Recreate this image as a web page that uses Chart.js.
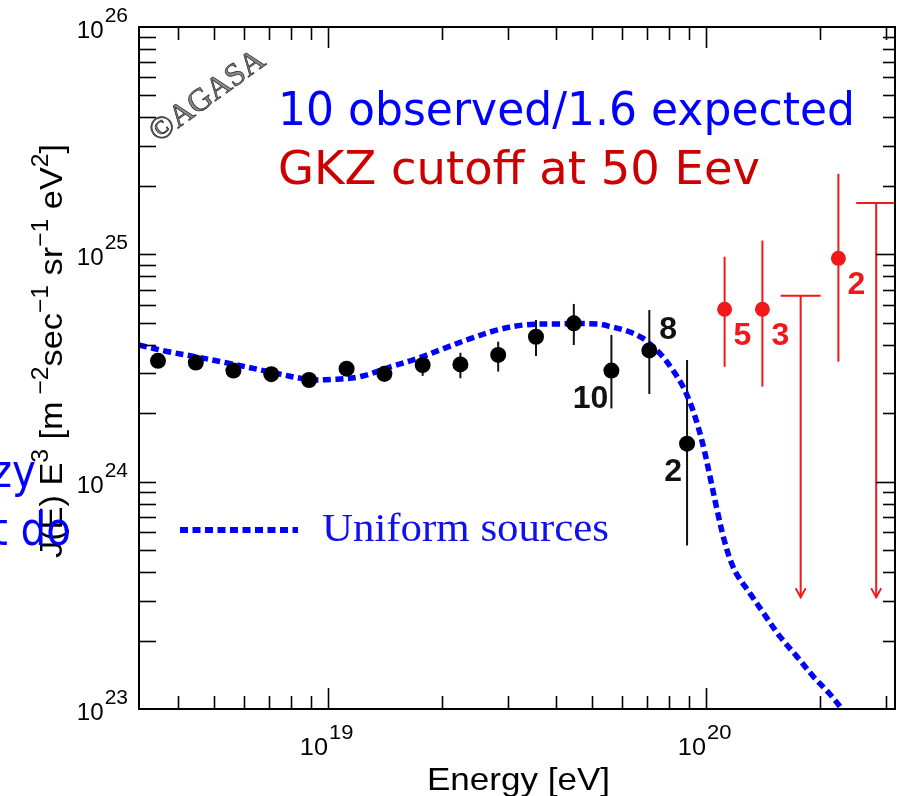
<!DOCTYPE html>
<html>
<head>
<meta charset="utf-8">
<script src="https://cdn.jsdelivr.net/npm/chart.js@4.4.0/dist/chart.umd.min.js"></script>
<style>
  html, body { margin: 0; padding: 0; background: #fff; }
  #wrap { position: relative; width: 903px; height: 796px; }
  canvas { display: block; }
</style>
</head>
<body>
<div id="wrap"><canvas id="chart"></canvas></div>
<script>
// AGASA energy spectrum, flux multiplied by E^3
const energy = [3.55e18, 4.47e18, 5.62e18, 7.08e18, 8.91e18, 1.12e19, 1.41e19, 1.78e19,
                2.24e19, 2.82e19, 3.55e19, 4.47e19, 5.62e19, 7.08e19, 8.91e19];
const flux   = [3.40e24, 3.34e24, 3.08e24, 2.97e24, 2.80e24, 3.14e24, 2.98e24, 3.26e24,
                3.28e24, 3.61e24, 4.34e24, 4.97e24, 3.08e24, 3.78e24, 1.47e24];
const fluxLo = [3.30e24, 3.24e24, 2.98e24, 2.87e24, 2.70e24, 3.02e24, 2.75e24, 2.92e24,
                2.85e24, 3.05e24, 3.57e24, 3.99e24, 2.10e24, 2.43e24, 5.24e23];
const fluxHi = [3.50e24, 3.44e24, 3.18e24, 3.07e24, 2.92e24, 3.27e24, 3.20e24, 3.61e24,
                3.69e24, 4.13e24, 5.14e24, 6.05e24, 4.42e24, 5.69e24, 3.43e24];
const eventCounts = [null, null, null, null, null, null, null, null,
                     null, null, null, null, '10', '8', '2'];

// events above the GZK energy
const gzkEnergy = [1.12e20, 1.41e20, 2.24e20];
const gzkFlux   = [5.73e24, 5.73e24, 9.60e24];
const gzkLo     = [3.20e24, 2.62e24, 3.37e24];
const gzkHi     = [9.76e24, 1.15e25, 2.26e25];
const gzkCounts = ['5', '3', '2'];

// upper limits (no events)
const limitEnergy = [1.78e20, 2.82e20];
const limitFlux   = [6.58e24, 1.68e25];
const limitFloor  = [3.10e23, 3.10e23];

// expected spectrum for uniformly distributed sources
const modelEnergy = [3.16e18, 3.78e18, 4.45e18, 5.45e18, 6.95e18, 8.85e18, 1.04e19, 1.22e19,
                     1.47e19, 1.73e19, 2.03e19, 2.39e19, 2.81e19, 3.30e19, 4.05e19, 5.15e19,
                     5.65e19, 6.19e19, 6.78e19, 7.21e19, 7.66e19, 8.13e19, 8.65e19, 9.08e19,
                     9.47e19, 9.89e19, 1.025e20, 1.07e20, 1.115e20, 1.16e20, 1.21e20, 1.31e20,
                     1.42e20, 1.57e20, 1.74e20, 1.93e20, 2.12e20, 2.29e20];
const modelFlux   = [3.99e24, 3.73e24, 3.55e24, 3.32e24, 3.05e24, 2.82e24, 2.82e24, 2.90e24,
                     3.21e24, 3.49e24, 3.86e24, 4.27e24, 4.65e24, 4.89e24, 4.94e24, 4.94e24,
                     4.79e24, 4.60e24, 4.29e24, 3.95e24, 3.57e24, 3.13e24, 2.66e24, 2.22e24,
                     1.81e24, 1.38e24, 1.05e24, 7.50e23, 5.60e23, 4.52e23, 3.88e23, 3.21e23,
                     2.64e23, 2.08e23, 1.70e23, 1.38e23, 1.17e23, 1.00e23];

const xDecades = [19, 20];
const yDecades = [23, 24, 25, 26];

const SANS = '"Liberation Sans", Arial, Helvetica, sans-serif';
const SERIF = '"Liberation Serif", "Times New Roman", serif';
const CASUAL = '"DejaVu Sans", sans-serif';

function toPoints(xs, ys) { return xs.map((v, i) => ({ x: v, y: ys[i] })); }

// text with superscripts: parts = [[text, isSuperscript], ...]
function richWidth(ctx, parts, size, supSize, family) {
  let w = 0;
  for (const [t, sup] of parts) {
    ctx.font = (sup ? supSize : size) + 'px ' + family;
    w += ctx.measureText(t).width;
  }
  return w;
}
function drawRich(ctx, parts, size, supSize, rise, family, startX) {
  let cx = startX;
  for (const [t, sup] of parts) {
    ctx.font = (sup ? supSize : size) + 'px ' + family;
    ctx.fillText(t, cx, sup ? -rise : 0);
    cx += ctx.measureText(t).width;
  }
}
// draw a string squeezed/stretched horizontally to a target width
function fitText(ctx, text, font, x, y, width, color) {
  ctx.save();
  ctx.font = font;
  const w = ctx.measureText(text).width;
  ctx.translate(x, y);
  ctx.scale(width / w, 1);
  ctx.fillStyle = color;
  ctx.textAlign = 'left';
  ctx.textBaseline = 'alphabetic';
  ctx.fillText(text, 0, 0);
  ctx.restore();
}

const errorBars = {
  id: 'errorBars',
  beforeDatasetsDraw(chart) {
    const { ctx, scales: { x, y } } = chart;
    ctx.save();
    ctx.lineWidth = 2;
    ctx.strokeStyle = '#111';
    energy.forEach((e, i) => {
      const px = x.getPixelForValue(e);
      ctx.beginPath();
      ctx.moveTo(px, y.getPixelForValue(fluxLo[i]));
      ctx.lineTo(px, y.getPixelForValue(fluxHi[i]));
      ctx.stroke();
    });
    ctx.strokeStyle = '#f01818';
    gzkEnergy.forEach((e, i) => {
      const px = x.getPixelForValue(e);
      ctx.beginPath();
      ctx.moveTo(px, y.getPixelForValue(gzkLo[i]));
      ctx.lineTo(px, y.getPixelForValue(gzkHi[i]));
      ctx.stroke();
    });
    // upper limits with downward arrows
    const a = chart.chartArea;
    ctx.save();
    ctx.beginPath();
    ctx.rect(a.left, a.top, a.right - a.left, a.bottom - a.top);
    ctx.clip();
    limitEnergy.forEach((e, i) => {
      const px = x.getPixelForValue(e);
      const top = y.getPixelForValue(limitFlux[i]);
      const tip = y.getPixelForValue(limitFloor[i]);
      ctx.lineWidth = 2;
      ctx.beginPath();
      ctx.moveTo(px - 20, top); ctx.lineTo(px + 20, top);
      ctx.moveTo(px, top); ctx.lineTo(px, tip);
      ctx.stroke();
      ctx.lineWidth = 1.8;
      ctx.beginPath();
      ctx.moveTo(px - 5, tip - 9); ctx.lineTo(px, tip); ctx.lineTo(px + 5, tip - 9);
      ctx.stroke();
    });
    ctx.restore();
    ctx.restore();
  }
};

const decorations = {
  id: 'decorations',
  afterDraw(chart) {
    const { ctx, chartArea: a, scales: { x, y } } = chart;
    ctx.save();

    // frame
    ctx.strokeStyle = '#000';
    ctx.lineWidth = 2;
    ctx.strokeRect(a.left, a.top, a.right - a.left, a.bottom - a.top);

    // inward tick marks on all four sides
    ctx.lineWidth = 1.6;
    const seg = (x1, y1, x2, y2) => { ctx.beginPath(); ctx.moveTo(x1, y1); ctx.lineTo(x2, y2); ctx.stroke(); };
    const lx0 = Math.floor(Math.log10(x.min)), lx1 = Math.ceil(Math.log10(x.max));
    for (let d = lx0; d <= lx1; d++) {
      for (let m = 1; m <= 9; m++) {
        const v = m * Math.pow(10, d);
        if (v <= x.min * 1.0001 || v >= x.max * 0.9999) continue;
        const px = Math.round(x.getPixelForValue(v)) + 0.5;
        const len = m === 1 ? 21 : 13;
        seg(px, a.bottom, px, a.bottom - len);
        seg(px, a.top, px, a.top + len);
      }
    }
    const ly0 = Math.floor(Math.log10(y.min)), ly1 = Math.ceil(Math.log10(y.max));
    for (let d = ly0; d <= ly1; d++) {
      for (let m = 1; m <= 9; m++) {
        const v = m * Math.pow(10, d);
        if (v <= y.min * 1.0001 || v >= y.max * 0.9999) continue;
        const py = Math.round(y.getPixelForValue(v)) + 0.5;
        seg(a.left, py, a.left + 17, py);
        seg(a.right, py, a.right - (m === 1 ? 19 : 12), py);
      }
    }

    // tick labels 10^n
    ctx.fillStyle = '#000';
    ctx.textBaseline = 'alphabetic';
    ctx.textAlign = 'left';
    xDecades.forEach(d => {
      const px = x.getPixelForValue(Math.pow(10, d));
      ctx.save();
      ctx.translate(px, a.bottom + 46);
      ctx.scale(1.1, 1);
      ctx.font = '23px ' + SANS;
      const w10 = ctx.measureText('10').width;
      ctx.fillText('10', -w10, 0);
      ctx.font = '20px ' + SANS;
      ctx.fillText(String(d), 1, -16);
      ctx.restore();
    });
    yDecades.forEach(d => {
      const py = y.getPixelForValue(Math.pow(10, d));
      ctx.save();
      ctx.translate(128, py + 11);
      ctx.scale(1.05, 1);
      ctx.font = '20px ' + SANS;
      const ws = ctx.measureText(String(d)).width;
      ctx.fillText(String(d), -ws, -16);
      ctx.font = '23px ' + SANS;
      const w10 = ctx.measureText('10').width;
      ctx.fillText('10', -ws - w10 - 1, 0);
      ctx.restore();
    });

    // axis titles
    fitText(ctx, 'Energy [eV]', '32px ' + SANS, 427, 790, 183, '#000');
    const yTitle = [['J(E) E', 0], ['3', 1], [' [m', 0], [' \u22122', 1], ['sec', 0], ['\u22121', 1],
                    [' sr', 0], ['\u22121', 1], [' eV', 0], ['2', 1], [']', 0]];
    ctx.save();
    ctx.translate(62, 351);
    ctx.rotate(-Math.PI / 2);
    const tw = richWidth(ctx, yTitle, 32, 23, SANS);
    ctx.scale(414 / tw, 1);
    ctx.fillStyle = '#000';
    drawRich(ctx, yTitle, 32, 23, 14, SANS, -tw / 2);
    ctx.restore();

    // event counts beside points
    ctx.font = 'bold 32px ' + SANS;
    const place = { 12: ['right', -3, 37], 13: ['left', 10, -11], 14: ['right', -5, 37] };
    eventCounts.forEach((c, i) => {
      if (!c) return;
      const [al, dx, dy] = place[i];
      ctx.fillStyle = '#111';
      ctx.textAlign = al;
      ctx.fillText(c, x.getPixelForValue(energy[i]) + dx, y.getPixelForValue(flux[i]) + dy);
    });
    gzkCounts.forEach((c, i) => {
      ctx.fillStyle = '#f01818';
      ctx.textAlign = 'left';
      ctx.fillText(c, x.getPixelForValue(gzkEnergy[i]) + 9, y.getPixelForValue(gzkFlux[i]) + 36);
    });

    // legend entry for the model curve
    const ds = chart.data.datasets[0];
    ctx.save();
    ctx.strokeStyle = ds.borderColor;
    ctx.lineWidth = 6;
    ctx.setLineDash(ds.borderDash);
    ctx.beginPath();
    ctx.moveTo(180, 530); ctx.lineTo(298, 530);
    ctx.stroke();
    ctx.restore();
    fitText(ctx, ds.label, '40px ' + SERIF, 322, 541, 287, '#1010ee');

    // copyright stamp
    ctx.save();
    ctx.translate(158, 143);
    ctx.rotate(-36 * Math.PI / 180);
    ctx.font = '32px ' + SERIF;
    ctx.textAlign = 'left';
    ctx.fillStyle = '#8a8a8a';
    ctx.strokeStyle = '#333';
    ctx.lineWidth = 0.8;
    ctx.fillText('\u00A9AGASA', 0, 0);
    ctx.strokeText('\u00A9AGASA', 0, 0);
    ctx.restore();

    // headline annotations
    fitText(ctx, '10 observed/1.6 expected', '47px ' + CASUAL, 278, 125, 577, '#0000ff');
    fitText(ctx, 'GKZ cutoff at 50 Eev', '47px ' + CASUAL, 278, 184, 482, '#cc0000');

    // text running in from the left margin
    ctx.font = '47px ' + CASUAL;
    ctx.fillStyle = '#0000ff';
    ctx.textAlign = 'right';
    ctx.save(); ctx.translate(36, 487); ctx.scale(0.86, 1); ctx.fillText('zy', 0, 0); ctx.restore();
    ctx.save(); ctx.translate(71, 545); ctx.scale(0.86, 1); ctx.fillText('t do', 0, 0); ctx.restore();

    ctx.restore();
  }
};

new Chart(document.getElementById('chart'), {
  type: 'scatter',
  data: {
    datasets: [
      {
        type: 'line',
        label: 'Uniform sources',
        data: toPoints(modelEnergy, modelFlux),
        borderColor: '#0000ff',
        borderWidth: 5.5,
        borderDash: [8, 4.5],
        borderCapStyle: 'butt',
        pointRadius: 0,
        fill: false,
        tension: 0.35,
        order: 3
      },
      {
        label: 'AGASA',
        data: toPoints(energy, flux),
        backgroundColor: '#000',
        borderColor: '#000',
        borderWidth: 0,
        pointRadius: 8,
        pointHoverRadius: 8,
        order: 1
      },
      {
        label: 'AGASA above GZK',
        data: toPoints(gzkEnergy, gzkFlux),
        backgroundColor: '#f01818',
        borderColor: '#f01818',
        borderWidth: 0,
        pointRadius: 7.5,
        pointHoverRadius: 7.5,
        order: 2
      }
    ]
  },
  options: {
    responsive: true,
    maintainAspectRatio: false,
    animation: false,
    events: [],
    layout: { padding: { left: 139, right: 6, top: 27, bottom: 87 } },
    plugins: { legend: { display: false }, tooltip: { enabled: false } },
    scales: {
      x: { type: 'logarithmic', min: Math.pow(10, 18.5), max: Math.pow(10, 20.5), display: false },
      y: { type: 'logarithmic', min: 1e23, max: 1e26, display: false }
    }
  },
  plugins: [errorBars, decorations]
});
</script>
</body>
</html>
